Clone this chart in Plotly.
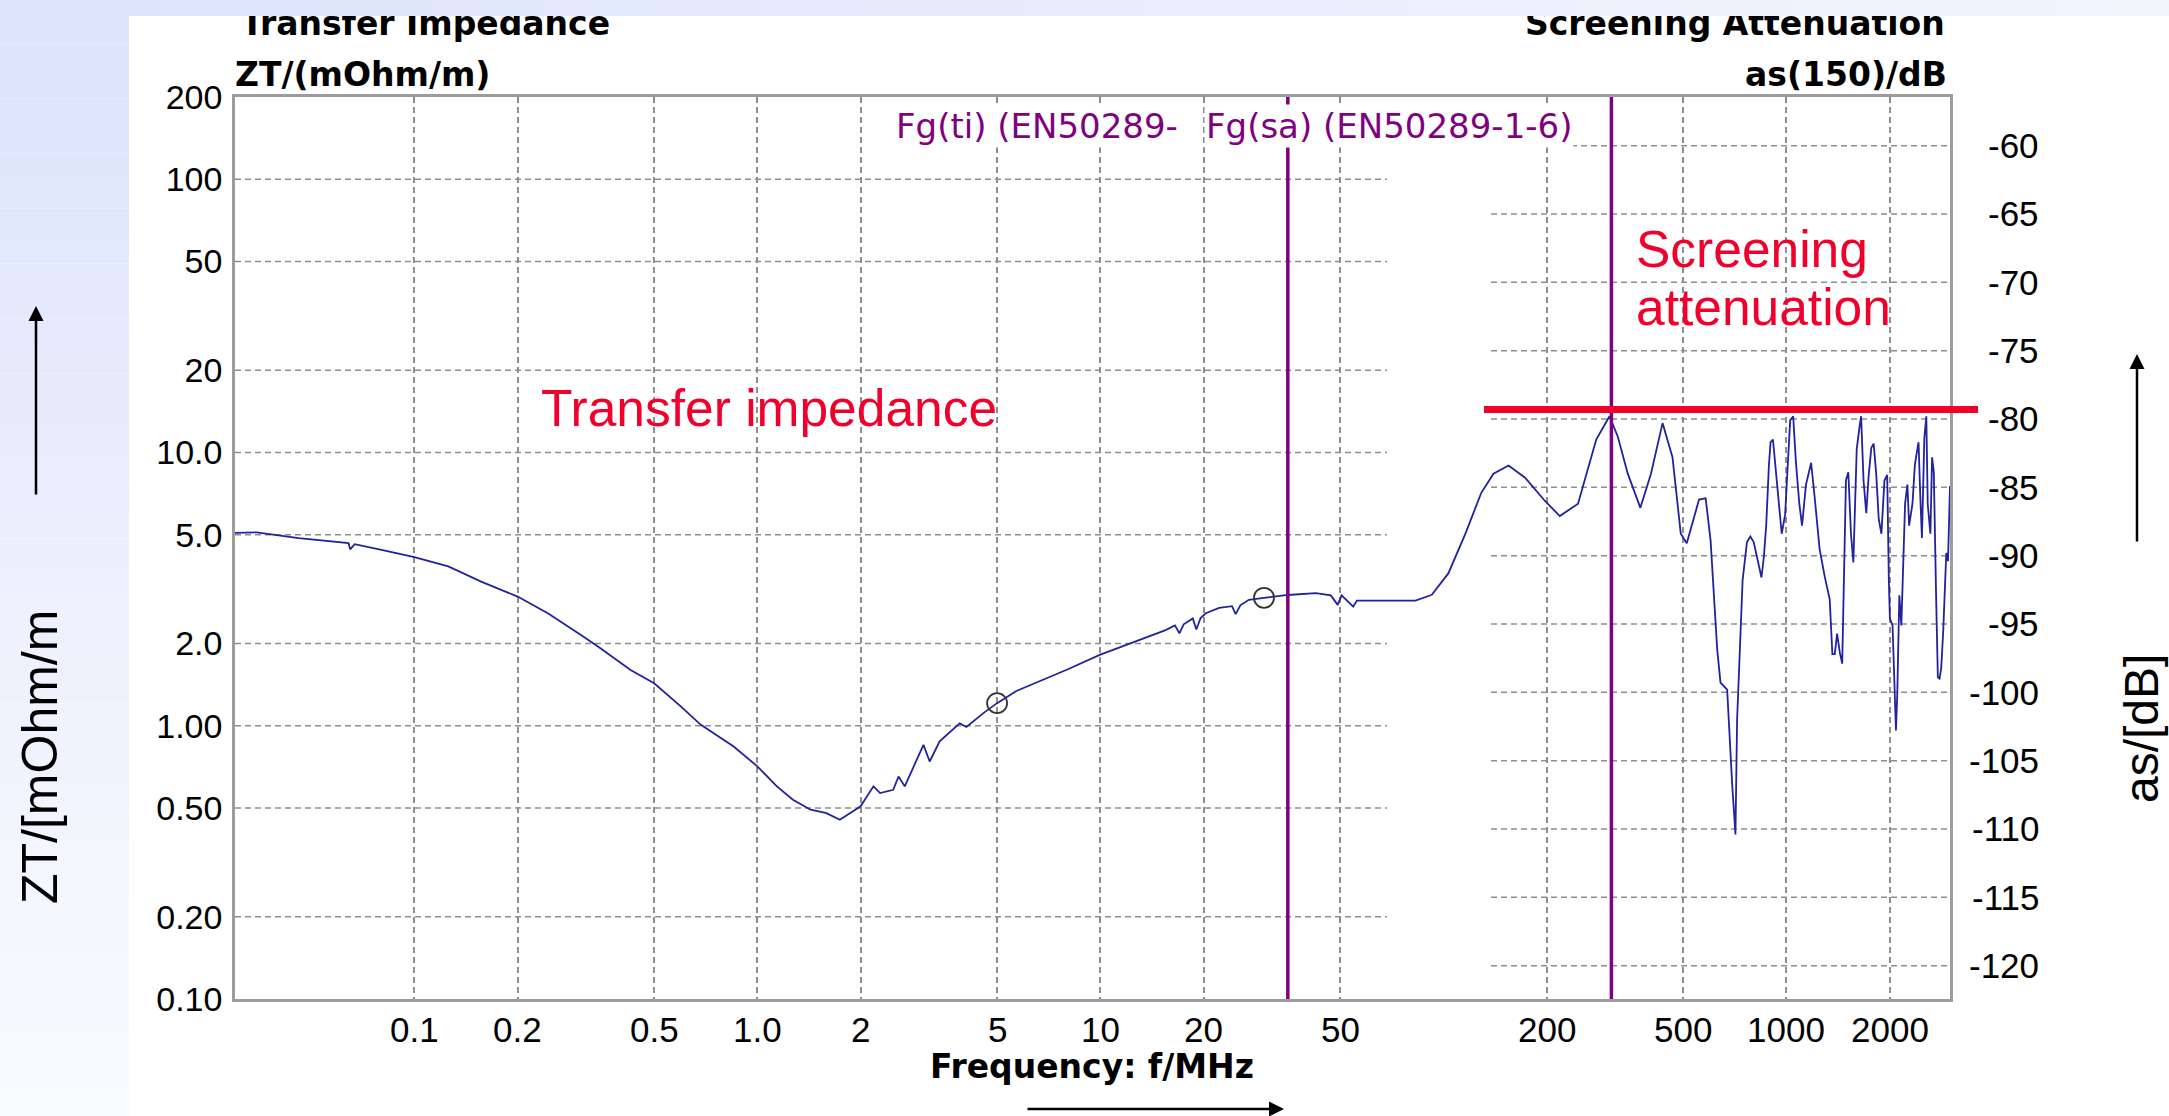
import math
import plotly.graph_objects as go

# ---------------- data ----------------
zt_freq_mhz = [0.03, 0.0347, 0.046, 0.0643, 0.065, 0.067, 0.0802, 0.1, 0.1256, 0.1566,
               0.2, 0.245, 0.306, 0.343, 0.427, 0.5, 0.597, 0.683, 0.853, 1.0,
               1.14, 1.27, 1.43, 1.59, 1.74, 1.86, 2.0, 2.18, 2.28, 2.49,
               2.58, 2.69, 2.85, 3.05, 3.18, 3.4, 3.89, 4.07, 4.55, 5.0,
               5.69, 7.95, 10.0, 12.4, 15.5, 16.5, 17.0, 17.5, 18.6, 19.05,
               19.6, 20.3, 22.2, 24.2, 24.8, 25.6, 27.1, 30.0, 35.2, 42.5,
               47.0, 49.2, 50.5, 54.6, 56.0, 59.3, 82.9, 92.3]
zt_mohm_m = [5.08, 5.10, 4.86, 4.66, 4.42, 4.62, 4.40, 4.14, 3.83, 3.37,
             2.97, 2.58, 2.15, 1.95, 1.60, 1.43, 1.18, 1.01, 0.84, 0.71,
             0.60, 0.536, 0.493, 0.479, 0.453, 0.479, 0.507, 0.600, 0.567, 0.583,
             0.652, 0.600, 0.700, 0.851, 0.740, 0.877, 1.02, 0.99, 1.11, 1.21,
             1.34, 1.60, 1.82, 2.01, 2.24, 2.33, 2.18, 2.35, 2.47, 2.25,
             2.48, 2.58, 2.70, 2.74, 2.56, 2.76, 2.89, 2.94, 3.01, 3.06,
             3.00, 2.77, 3.00, 2.73, 2.87, 2.87, 2.87, 3.01]

sa_freq_mhz = [92.3, 103.4, 115.9, 129, 140, 154.9, 173.1, 197.8, 218.6, 247.0,
               279.1, 305.1, 322.6, 344.9, 375.3, 403, 435.6, 465.6, 492.3, 512.4,
               556.4, 581.8, 601.4, 628.8, 642.9, 672.1, 695.0, 710.6, 718.5, 745.5,
               767.7, 785.2, 803.2, 821.6, 846.2, 859.7, 873.5, 889.5, 899.5, 913.9,
               930.7, 947.7, 969.4, 991.7, 1007.6, 1026, 1047, 1066, 1091, 1111,
               1141, 1181, 1208, 1250, 1293, 1338, 1362, 1384, 1406, 1432,
               1455, 1472, 1492, 1516, 1543, 1568, 1604, 1634, 1652, 1679,
               1710, 1737, 1769, 1797, 1829, 1859, 1893, 1932, 1968, 1990,
               2004, 2040, 2068, 2087, 2106, 2135, 2164, 2194, 2219, 2254,
               2280, 2332, 2369, 2402, 2429, 2457, 2485, 2525, 2559, 2583,
               2630, 2660, 2691, 2734, 2765, 2797, 2829, 2868, 2907, 2926,
               2960, 2980, 3000]
sa_db = [-92.9, -91.3, -88.4, -85.4, -84.0, -83.4, -84.3, -86.0, -87.1, -86.2,
         -81.5, -79.8, -81.3, -84.0, -86.5, -84.0, -80.3, -82.8, -88.4, -89.1,
         -85.9, -85.8, -88.9, -96.9, -99.3, -99.8, -106.7, -110.4, -102.0, -91.8,
         -89.0, -88.6, -89.0, -90.2, -91.6, -90.1, -87.8, -83.4, -81.7, -81.5,
         -83.6, -86.2, -88.4, -87.0, -83.4, -80.1, -79.8, -83.1, -86.2, -87.8,
         -84.8, -83.2, -85.6, -89.5, -91.5, -93.2, -97.2, -97.2, -95.7, -97.1,
         -97.9, -91.2, -84.5, -83.9, -88.4, -90.5, -82.2, -80.6, -79.8, -84.5,
         -86.9, -84.2, -82.1, -81.8, -84.1, -87.3, -88.4, -84.5, -84.1, -91.8,
         -94.6, -95.1, -99.3, -102.8, -100.1, -92.9, -95.1, -90.1, -86.2, -84.8,
         -87.8, -86.2, -83.4, -82.4, -81.7, -85.6, -88.7, -81.4, -79.8, -86.2,
         -88.4, -82.8, -83.9, -93.2, -98.9, -99.0, -98.2, -95.4, -91.5, -89.8,
         -90.4, -87.6, -84.9]

marker_freq_mhz = [5.0, 30.0]
marker_zt = [1.21, 2.94]

fg_ti_mhz = 35.2
fg_sa_mhz = 309.0
sa_limit_db = -79.3

x_range_mhz = [0.03, 3000]
zt_range = [0.1, 200]
sa_range_db = [-122.44, -56.44]

x_tickvals = [0.1, 0.2, 0.5, 1, 2, 5, 10, 20, 50, 200, 500, 1000, 2000]
x_ticktext = ['0.1', '0.2', '0.5', '1.0', '2', '5', '10', '20', '50', '200', '500', '1000', '2000']
zt_tickvals = [0.1, 0.2, 0.5, 1, 2, 5, 10, 20, 50, 100, 200]
zt_ticktext = ['0.10', '0.20', '0.50', '1.00', '2.0', '5.0', '10.0', '20', '50', '100', '200']
zt_gridvals = [0.2, 0.5, 1, 2, 5, 10, 20, 50, 100]
sa_tickvals = [-60, -65, -70, -75, -80, -85, -90, -95, -100, -105, -110, -115, -120]
sa_ticktext = ['-60', '-65', '-70', '-75', '-80', '-85', '-90', '-95', '-100', '-105', '-110', '-115', '-120']

# ---------------- layout geometry / style ----------------
W, H = 2169, 1116
L, R, T, B = 235, 1950, 97, 999


def px_x(px):
    return (px - L) / (R - L)


def px_y(py):
    return (B - py) / (B - T)


CURVE = '#22229c'
GRID = '#8e8e8e'
FRAME = '#9c9c9c'
PURPLE = '#800080'
RED = '#f2002c'
TICKFONT = 'Liberation Sans, Arial, sans-serif'
TITLEFONT = 'DejaVu Sans, Verdana, sans-serif'

fig = go.Figure()

fig.add_trace(go.Scatter(x=zt_freq_mhz, y=zt_mohm_m, mode='lines',
                         line=dict(color=CURVE, width=1.8), xaxis='x', yaxis='y',
                         hoverinfo='skip', showlegend=False))
fig.add_trace(go.Scatter(x=sa_freq_mhz, y=sa_db, mode='lines',
                         line=dict(color=CURVE, width=1.8), xaxis='x', yaxis='y2',
                         hoverinfo='skip', showlegend=False))
fig.add_trace(go.Scatter(x=marker_freq_mhz, y=marker_zt, mode='markers',
                         marker=dict(symbol='circle-open', size=20, color='#333333',
                                     line=dict(width=1.8, color='#333333')),
                         xaxis='x', yaxis='y', hoverinfo='skip', showlegend=False))

shapes = []
# left background gradient band
n = 40
c0, c1 = (221, 228, 251), (250, 251, 254)
for i in range(n):
    t = i / (n - 1)
    col = 'rgb(%d,%d,%d)' % tuple(round(a + (b - a) * t) for a, b in zip(c0, c1))
    y_top = 16 + (H - 16) * i / n
    y_bot = 16 + (H - 16) * (i + 1) / n
    shapes.append(dict(type='rect', xref='paper', yref='paper', layer='below',
                       x0=px_x(0), x1=px_x(129), y0=px_y(y_bot), y1=px_y(y_top),
                       line=dict(width=0), fillcolor=col))

# partial horizontal grid lines
for v in zt_gridvals:
    shapes.append(dict(type='line', xref='x domain', yref='y', layer='below',
                       x0=0, x1=px_x(1387), y0=v, y1=v,
                       line=dict(color=GRID, width=1.5, dash='6px,4px')))
for v in sa_tickvals:
    shapes.append(dict(type='line', xref='x domain', yref='y2', layer='below',
                       x0=px_x(1491), x1=1, y0=v, y1=v,
                       line=dict(color=GRID, width=1.5, dash='6px,4px')))
# cut-off frequency lines
for f in (fg_ti_mhz, fg_sa_mhz):
    shapes.append(dict(type='line', xref='x', yref='paper', layer='above',
                       x0=f, x1=f, y0=0, y1=1, line=dict(color=PURPLE, width=3.5)))
# red limit line
shapes.append(dict(type='line', xref='paper', yref='y2', layer='above',
                   x0=px_x(1484), x1=px_x(1978), y0=sa_limit_db, y1=sa_limit_db,
                   line=dict(color=RED, width=7)))

ann = []
# top titles (their tops disappear under the top band, added afterwards)
ann.append(dict(text='<b>Transfer Impedance</b>', xref='paper', yref='paper', x=px_x(239), y=px_y(23),
                xanchor='left', yanchor='middle', showarrow=False,
                font=dict(family=TITLEFONT, size=33, color='black')))
ann.append(dict(text='<b>Screening Attenuation</b>', xref='paper', yref='paper', x=px_x(1947), y=px_y(23),
                xanchor='right', yanchor='middle', showarrow=False,
                font=dict(family=TITLEFONT, size=33, color='black')))
ann.append(dict(text='<b>ZT/(mOhm/m)</b>', xref='paper', yref='paper', x=px_x(233), y=px_y(74),
                xanchor='left', yanchor='middle', showarrow=False,
                font=dict(family=TITLEFONT, size=33, color='black')))
ann.append(dict(text='<b>as(150)/dB</b>', xref='paper', yref='paper', x=px_x(1949), y=px_y(74),
                xanchor='right', yanchor='middle', showarrow=False,
                font=dict(family=TITLEFONT, size=33, color='black')))
ann.append(dict(text='<b>Frequency: f/MHz</b>', xref='paper', yref='paper', x=px_x(1092), y=px_y(1066),
                xanchor='center', yanchor='middle', showarrow=False,
                font=dict(family=TITLEFONT, size=33, color='black')))
ann.append(dict(text='Fg(ti) (EN50289-', xref='x', yref='paper', x=math.log10(fg_ti_mhz), y=px_y(126),
                xanchor='right', yanchor='middle', xshift=-108, showarrow=False, bgcolor='white',
                font=dict(family=TITLEFONT, size=34, color=PURPLE)))
ann.append(dict(text='Fg(sa) (EN50289-1-6)', xref='x', yref='paper', x=math.log10(fg_sa_mhz), y=px_y(126),
                xanchor='right', yanchor='middle', xshift=-37, showarrow=False, bgcolor='white',
                font=dict(family=TITLEFONT, size=34, color=PURPLE)))
ann.append(dict(text='Transfer impedance', xref='paper', yref='paper', x=px_x(769), y=px_y(408),
                xanchor='center', yanchor='middle', showarrow=False,
                font=dict(family=TICKFONT, size=51.5, color=RED)))
ann.append(dict(text='Screening', xref='paper', yref='paper', x=px_x(1634), y=px_y(249),
                xanchor='left', yanchor='middle', showarrow=False,
                font=dict(family=TICKFONT, size=51.5, color=RED)))
ann.append(dict(text='attenuation', xref='paper', yref='paper', x=px_x(1634), y=px_y(307),
                xanchor='left', yanchor='middle', showarrow=False,
                font=dict(family=TICKFONT, size=51.5, color=RED)))
ann.append(dict(text='ZT/[mOhm/m', xref='paper', yref='paper', x=px_x(40), y=px_y(757),
                xanchor='center', yanchor='middle', textangle=-90, showarrow=False,
                font=dict(family=TICKFONT, size=50, color='black')))
ann.append(dict(text='as/[dB]', xref='paper', yref='paper', x=px_x(2141), y=px_y(729),
                xanchor='center', yanchor='middle', textangle=-90, showarrow=False,
                font=dict(family=TICKFONT, size=48, color='black')))
# axis direction arrows
for hx, hy, ax_, ay_ in [(36, 306, 0, 190), (2137, 354, 0, 189), (1284, 1109, -258, 0)]:
    ann.append(dict(text='', xref='paper', yref='paper', x=px_x(hx), y=px_y(hy),
                    ax=ax_, ay=ay_, showarrow=True, arrowhead=2, arrowsize=1.2,
                    arrowwidth=2.5, arrowcolor='black'))
# x tick labels
for v, txt in zip(x_tickvals, x_ticktext):
    ann.append(dict(text=txt, xref='x', yref='paper', x=math.log10(v), y=px_y(1029),
                    xanchor='center', yanchor='middle', showarrow=False,
                    font=dict(family=TICKFONT, size=35, color='black')))
# right-axis tick labels (right aligned, as in the reference)
for v, txt in zip(sa_tickvals, sa_ticktext):
    ann.append(dict(text=txt, xref='paper', yref='y2', x=px_x(2041), y=v,
                    xanchor='right', yanchor='middle', showarrow=False,
                    font=dict(family=TICKFONT, size=35, color='black')))
# top background band (drawn last so that it hides the tops of the titles)
c0, c1 = (221, 228, 251), (243, 245, 253)
for i in range(n):
    t = i / (n - 1)
    col = 'rgb(%d,%d,%d)' % tuple(round(a + (b - a) * t) for a, b in zip(c0, c1))
    ann.append(dict(text=' ', xref='paper', yref='paper', x=px_x(W * i / n), y=px_y(0),
                    xanchor='left', yanchor='top', width=math.ceil(W / n) + 1, height=16,
                    borderpad=0, borderwidth=0, bgcolor=col, showarrow=False,
                    font=dict(size=4, color=col)))

fig.update_layout(
    width=W, height=H, autosize=False,
    margin=dict(l=L, r=W - R, t=T, b=H - B, pad=0),
    paper_bgcolor='white', plot_bgcolor='white',
    showlegend=False, hovermode=False,
    xaxis=dict(type='log', range=[math.log10(x_range_mhz[0]), math.log10(x_range_mhz[1])],
               tickmode='array', tickvals=x_tickvals, ticktext=x_ticktext, showticklabels=False,
               showgrid=True, gridcolor=GRID, gridwidth=1.5, griddash='6px,4px',
               showline=True, linecolor=FRAME, linewidth=2.5, mirror=True,
               ticks='', ticklen=0, zeroline=False, automargin=False),
    yaxis=dict(type='log', range=[math.log10(zt_range[0]), math.log10(zt_range[1])],
               tickmode='array', tickvals=zt_tickvals, ticktext=zt_ticktext,
               showgrid=False, showline=True, linecolor=FRAME, linewidth=2.5, mirror=True,
               ticks='', ticklen=0, ticklabelstandoff=3, zeroline=False, automargin=False,
               tickfont=dict(family=TICKFONT, size=34, color='black')),
    yaxis2=dict(overlaying='y', side='right', anchor='x', range=sa_range_db,
                showgrid=False, showticklabels=False, showline=False, zeroline=False,
                ticks='', automargin=False),
    shapes=shapes,
    annotations=ann,
)

fig.write_html('out.html')
